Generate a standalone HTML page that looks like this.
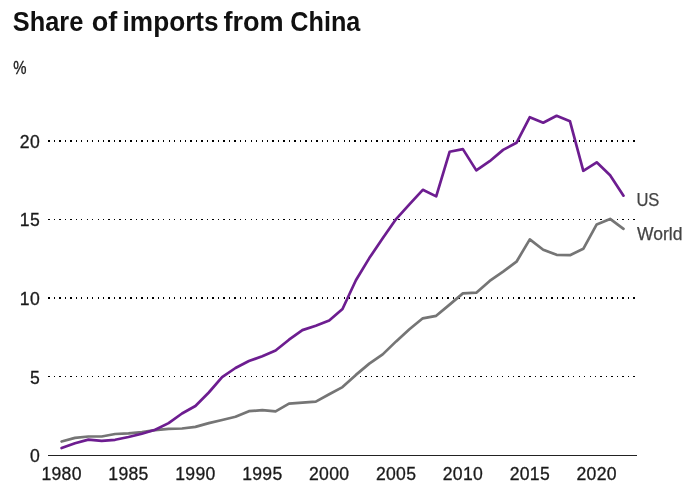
<!DOCTYPE html>
<html lang="en"><head><meta charset="utf-8"><title>Share of imports from China</title>
<style>
html,body{margin:0;padding:0;background:#fff}
svg{display:block;will-change:transform;font-family:"Liberation Sans",sans-serif}
.t{font-weight:bold;font-size:27.5px;fill:#111}
.a text{font-size:17.6px;fill:#1a1a1a;stroke:#1a1a1a;stroke-width:0.3px;letter-spacing:0.3px}
.l text{font-size:17.5px;fill:#444;stroke:#444;stroke-width:0.25px}
</style></head><body>
<svg width="684" height="497" viewBox="0 0 684 497">
<rect width="684" height="497" fill="#fff"/>
<text class="t" y="30.7"><tspan x="12.8" textLength="70.5" lengthAdjust="spacingAndGlyphs">Share</tspan> <tspan x="91.8" textLength="25.5" lengthAdjust="spacingAndGlyphs">of</tspan> <tspan x="122.6" textLength="96" lengthAdjust="spacingAndGlyphs">imports</tspan> <tspan x="223.4" textLength="60.2" lengthAdjust="spacingAndGlyphs">from</tspan> <tspan x="290.3" textLength="70" lengthAdjust="spacingAndGlyphs">China</tspan></text>
<g class="a">
<text x="13.3" y="73.6" letter-spacing="0" stroke="none" textLength="13.5" lengthAdjust="spacingAndGlyphs">%</text>
<text x="40" y="462.2" text-anchor="end">0</text>
<text x="40" y="383.6" text-anchor="end">5</text>
<text x="40" y="305.0" text-anchor="end">10</text>
<text x="40" y="226.4" text-anchor="end">15</text>
<text x="40" y="147.8" text-anchor="end">20</text>
<text x="61.6" y="480" text-anchor="middle">1980</text>
<text x="128.5" y="480" text-anchor="middle">1985</text>
<text x="195.4" y="480" text-anchor="middle">1990</text>
<text x="262.3" y="480" text-anchor="middle">1995</text>
<text x="329.2" y="480" text-anchor="middle">2000</text>
<text x="396.1" y="480" text-anchor="middle">2005</text>
<text x="462.9" y="480" text-anchor="middle">2010</text>
<text x="529.8" y="480" text-anchor="middle">2015</text>
<text x="596.7" y="480" text-anchor="middle">2020</text>
</g>
<line x1="48.3" x2="636.6" y1="140.8" y2="140.8" stroke="#000" stroke-width="1.9" stroke-dasharray="1.35 4.117" shape-rendering="crispEdges"/>
<line x1="48.3" x2="636.6" y1="219.4" y2="219.4" stroke="#000" stroke-width="1" stroke-dasharray="1.35 4.117" shape-rendering="crispEdges"/>
<line x1="48.3" x2="636.6" y1="298.0" y2="298.0" stroke="#000" stroke-width="1.9" stroke-dasharray="1.35 4.117" shape-rendering="crispEdges"/>
<line x1="48.3" x2="636.6" y1="376.6" y2="376.6" stroke="#000" stroke-width="1" stroke-dasharray="1.35 4.117" shape-rendering="crispEdges"/>
<line x1="48.3" x2="636.6" y1="455.5" y2="455.5" stroke="#222" stroke-width="1" shape-rendering="crispEdges"/>
<path d="M61.6,441.5 L75.0,437.9 L88.4,436.5 L101.7,436.5 L115.1,434.0 L128.5,433.3 L141.9,432.2 L155.2,430.2 L168.6,428.9 L182.0,428.5 L195.4,426.9 L208.8,423.1 L222.1,420.0 L235.5,416.8 L248.9,411.2 L262.3,410.2 L275.6,411.3 L289.0,403.6 L302.4,402.7 L315.8,401.6 L329.2,394.2 L342.5,387.1 L355.9,374.9 L369.3,363.6 L382.7,354.4 L396.1,341.4 L409.4,329.3 L422.8,318.3 L436.2,315.8 L449.6,304.6 L462.9,293.4 L476.3,292.7 L489.7,280.9 L503.1,271.6 L516.5,261.7 L529.8,239.4 L543.2,249.7 L556.6,254.8 L570.0,255.2 L583.3,248.8 L596.7,224.4 L610.1,218.9 L623.5,228.8" fill="none" stroke="#757575" stroke-width="2.7" stroke-linejoin="round" stroke-linecap="round"/>
<path d="M61.6,448.1 L75.0,443.3 L88.4,439.6 L101.7,440.9 L115.1,439.8 L128.5,437.0 L141.9,433.7 L155.2,429.7 L168.6,423.1 L182.0,413.5 L195.4,406.0 L208.8,392.5 L222.1,377.1 L235.5,368.0 L248.9,361.0 L262.3,356.3 L275.6,350.5 L289.0,339.7 L302.4,330.1 L315.8,325.7 L329.2,320.6 L342.5,309.0 L355.9,280.2 L369.3,258.1 L382.7,238.3 L396.1,219.1 L409.4,204.3 L422.8,189.8 L436.2,196.4 L449.6,151.8 L462.9,149.1 L476.3,170.4 L489.7,161.2 L503.1,149.9 L516.5,142.8 L529.8,117.2 L543.2,122.7 L556.6,115.8 L570.0,121.3 L583.3,170.8 L596.7,162.3 L610.1,175.2 L623.5,195.7" fill="none" stroke="#6d1d90" stroke-width="2.7" stroke-linejoin="round" stroke-linecap="round"/>
<g class="l">
<text x="636.4" y="205.7" textLength="23" lengthAdjust="spacingAndGlyphs">US</text>
<text x="637" y="240">World</text>
</g>
</svg>
</body></html>
